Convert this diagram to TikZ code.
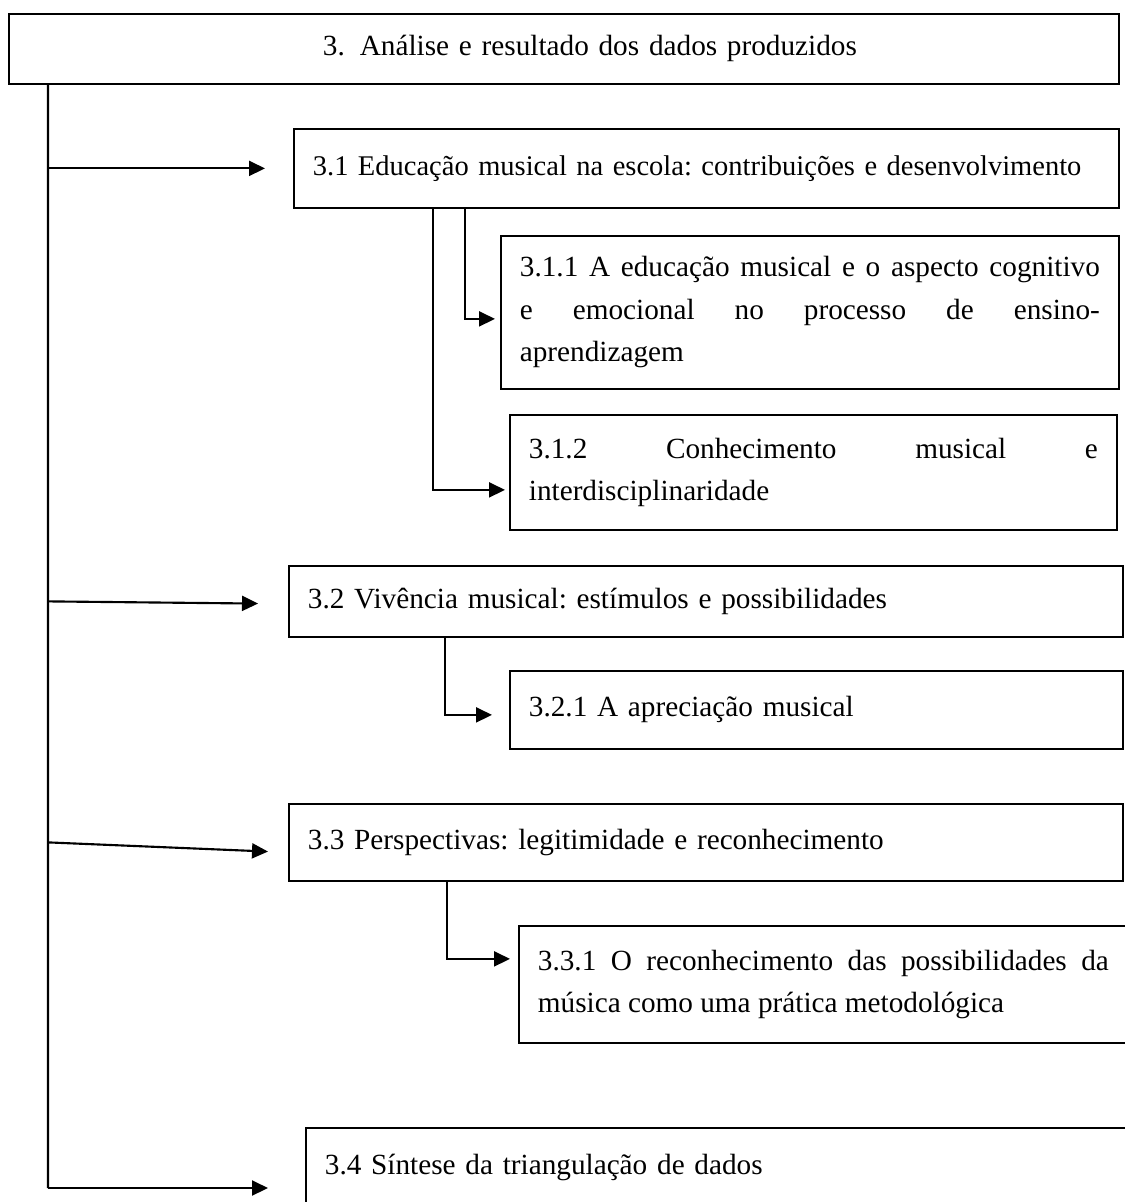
\documentclass[tikz,border=0pt]{standalone}
\usepackage{fontspec}
\setmainfont{Liberation Serif}
\usetikzlibrary{arrows.meta, positioning}

\begin{document}
\begin{tikzpicture}[x=0.4pt,y=-0.4pt,font=\fontsize{11.7}{17}\selectfont\frenchspacing,
    caixa/.style={draw, line width=0.7pt, anchor=north west, inner xsep=7.6pt, inner ysep=0pt, align=justify},
    titulo/.style={caixa, align=left},
    ramo/.style={line width=0.85pt},
    seta/.style={ramo, -{Triangle[length=6.4pt,width=6pt]}}]
    \useasboundingbox (0,0) rectangle (1125,1202);
    \clip (0,0) rectangle (1125,1202);
    % caixas
    \node[titulo, text width=428.8pt, minimum height=28pt] (topo) at (8,13) {\hspace*{118pt}3.\hspace{6pt}Análise e resultado dos dados produzidos};
    \node[titulo, text width=314.8pt, minimum height=31.6pt, font=\fontsize{11.4}{17}\selectfont\frenchspacing] (s31) at (293,128) {3.1 Educação musical na escola: contribuições e desenvolvimento};
    \node[caixa, text width=232pt, minimum height=61.2pt] (s311) at (500,235) {3.1.1 A educação musical e o aspecto cognitivo\linebreak e emocional no processo de ensino-\linebreak aprendizagem};
    \node[caixa, text width=227.6pt, minimum height=46pt] (s312) at (509,414) {3.1.2 Conhecimento musical e\linebreak interdisciplinaridade};
    \node[titulo, text width=318.4pt, minimum height=28.4pt] (s32) at (288,565) {3.2 Vivência musical: estímulos e possibilidades};
    \node[titulo, text width=230pt, minimum height=31.2pt] (s321) at (509,670) {3.2.1 A apreciação musical};
    \node[titulo, text width=318.4pt, minimum height=30.8pt] (s33) at (288,803) {3.3 Perspectivas: legitimidade e reconhecimento};
    \node[caixa, text width=228.4pt, minimum height=46.8pt] (s331) at (518,925) {3.3.1 O reconhecimento das possibilidades da\linebreak música como uma prática metodológica};
    \node[titulo, text width=318.8pt, minimum height=32pt] (s34) at (305,1127) {3.4 Síntese da triangulação de dados};
    % tronco e setas
    \coordinate (tronco) at ([xshift=16pt]topo.south west);
    \coordinate (fim) at (48,1188);
    \draw[ramo] (tronco) -- (fim);
    \draw[seta, shorten >=11.2pt] (tronco |- s31.west) -- (s31.west);
    \draw[seta, shorten >=12pt] (tronco |- s32.west) -- ([yshift=-1pt]s32.west);
    \draw[seta, shorten >=8pt] (tronco |- s33.west) -- ([yshift=-4pt]s33.west);
    \draw[seta, shorten >=14.8pt] (fim) -- (fim -| s34.west);
    \draw[seta, shorten >=2pt] ([xshift=68.8pt]s31.south west) |- ([yshift=-2.6pt]s311.west);
    \draw[seta, shorten >=1.6pt] ([xshift=56pt]s31.south west) |- ([yshift=-7pt]s312.west);
    \draw[seta, shorten >=6.8pt] ([xshift=62.8pt]s32.south west) |- ([yshift=-2pt]s321.west);
    \draw[seta, shorten >=3.2pt] ([xshift=63.6pt]s33.south west) |- ([yshift=10.2pt]s331.west);
\end{tikzpicture}
\end{document}
